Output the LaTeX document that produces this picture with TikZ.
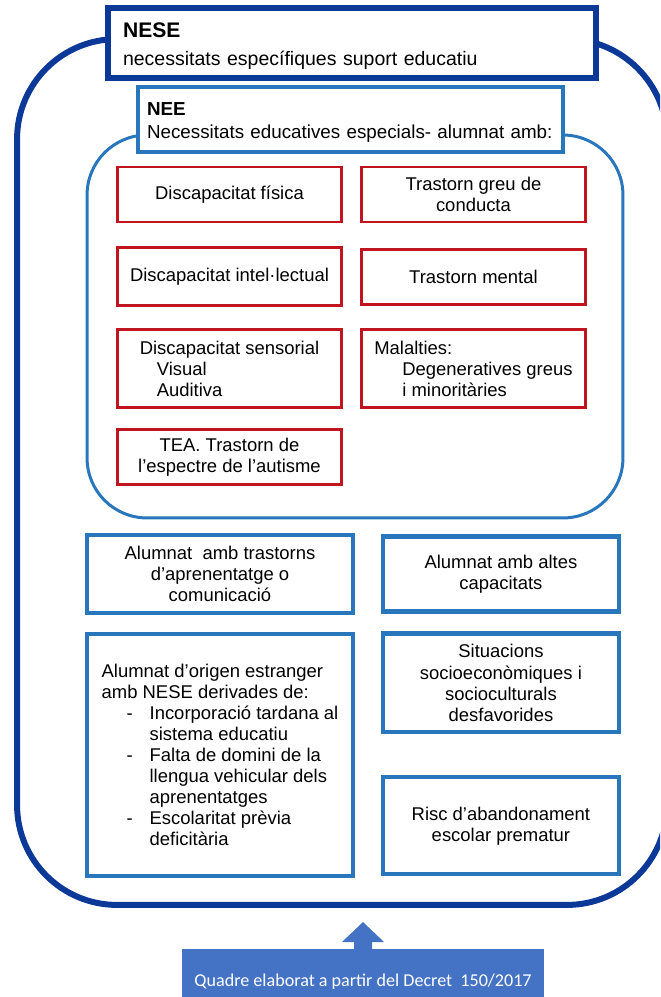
\documentclass[tikz,border=0pt]{standalone}
\usepackage{fontspec}
\setmainfont{Liberation Sans}
\newfontfamily\calibri{Carlito}
\usepackage{tikz}
\usepackage{xcolor}
\usetikzlibrary{positioning, calc}

\definecolor{nesedark}{RGB}{12,56,152}
\definecolor{neeblue}{RGB}{40,118,188}
\definecolor{neered}{RGB}{192,20,30}
\definecolor{quadrefill}{RGB}{68,114,196}

\newcommand{\guio}{\hspace*{0.5cm}\makebox[0.46cm][l]{-}}
\newcommand{\sagnat}{\hspace*{0.96cm}}

\begin{document}
\begin{tikzpicture}[x=0.02cm, y=-0.02cm,
    txt/.style={font=\fontsize{10.5}{12}\selectfont, align=center, outer sep=0pt},
    redbox/.style={txt, draw=neered, line width=1.7pt, fill=white, minimum width=4.48cm, minimum height=1.1cm},
    bluebox/.style={txt, draw=neeblue, line width=2.3pt, fill=white}]
    \useasboundingbox (0,0) rectangle (660,997);
    \clip (0,0) rectangle (660,997);
    \node[draw=nesedark, line width=3.4pt, rounded corners=2cm, minimum width=13cm, minimum height=17.32cm, outer sep=0pt] (nesearea) at (342,472) {};
    \node[draw=neeblue, line width=1.7pt, rounded corners=1.2cm, minimum width=10.72cm, minimum height=7.66cm, outer sep=0pt] (neearea) at (355,326.5) {};
    \node[draw=nesedark, line width=3.4pt, fill=white, minimum width=9.76cm, minimum height=1.4cm, text width=9.16cm, inner xsep=0.3cm, align=left, font=\fontsize{11.1}{15.4}\selectfont] (nese) at (352,43) {\rule{0pt}{0.42cm}{\fontsize{12}{15.4}\selectfont\bfseries NESE}\\necessitats específiques suport educatiu};
    \node[draw=neeblue, line width=2pt, fill=white, minimum width=8.5cm, minimum height=1.3cm, text width=8.14cm, inner xsep=0.18cm, align=left, font=\fontsize{10.7}{13}\selectfont] (nee) at (350.5,119.5) {\rule{0pt}{0.37cm}\textbf{NEE}\\Necessitats educatives especials- alumnat amb:};

    \node[redbox] (fisica) at (229.5,194.5) {Discapacitat física};
    \node[redbox, right=0.4cm of fisica] (conducta) {Trastorn greu de\\conducta};
    \node[redbox, below=0.52cm of fisica, minimum height=1.16cm] (intel) {Discapacitat intel·lectual};
    \node[redbox, right=0.4cm of intel] (mental) {Trastorn mental};
    \node[redbox, below=0.48cm of intel, minimum height=1.56cm, align=left] (sensorial) {Discapacitat sensorial\\\hspace*{0.34cm}Visual\\\hspace*{0.34cm}Auditiva};
    \node[redbox, right=0.4cm of sensorial, minimum height=1.56cm, align=left] (malalties) {Malalties:\\\hspace*{0.56cm}Degeneratives greus\\\hspace*{0.56cm}i minoritàries};
    \node[redbox, below=0.44cm of sensorial] (tea) {TEA. Trastorn de\\l’espectre de l’autisme};

    \node[bluebox, minimum width=5.32cm, minimum height=1.56cm] (trastorns) at (220,574) {Alumnat~ amb trastorns\\d’aprenentatge o\\comunicació};
    \node[bluebox, right=0.6cm of trastorns, minimum width=4.72cm, minimum height=1.5cm] (altes) {Alumnat amb altes\\capacitats};
    \node[bluebox, below=0.42cm of trastorns, minimum width=5.32cm, minimum height=4.84cm, align=left] (estranger) {Alumnat d’origen estranger\\amb NESE derivades de:\\\guio Incorporació tardana al\\\sagnat sistema educatiu\\\guio Falta de domini de la\\\sagnat llengua vehicular dels\\\sagnat aprenentatges\\\guio Escolaritat prèvia\\\sagnat deficitària};
    \node[bluebox, below=0.44cm of altes, minimum width=4.72cm, minimum height=1.98cm] (situacions) {Situacions\\socioeconòmiques i\\socioculturals\\desfavorides};
    \node[bluebox, below=0.9cm of situacions, minimum width=4.72cm, minimum height=1.94cm] (risc) {Risc d’abandonament\\escolar prematur};

    \node[fill=quadrefill, text=white, font=\calibri\fontsize{10.3}{12}\selectfont, minimum width=7.24cm, minimum height=1.32cm, outer sep=0pt] (quadre) at (363,982) {Quadre elaborat a partir del Decret~ 150/2017};
    \fill[quadrefill] ($(quadre.north)+(-9,1)$) -- ++(0,-8) -- ++(-12,0) -- ($(quadre.north)+(0,-27)$) -- ++(21,20) -- ++(-12,0) -- ++(0,8) -- cycle;
\end{tikzpicture}
\end{document}
